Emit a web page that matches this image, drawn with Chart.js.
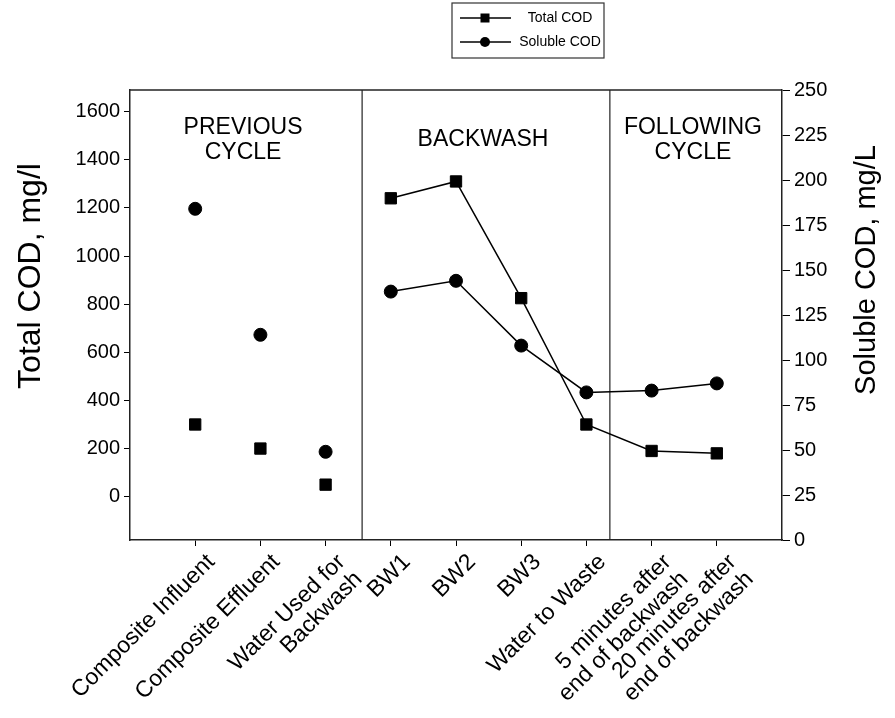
<!DOCTYPE html>
<html>
<head>
<meta charset="utf-8">
<script src="https://cdn.jsdelivr.net/npm/chart.js@4.4.1/dist/chart.umd.min.js"></script>
<style>
  html, body { margin: 0; padding: 0; background: #fff; }
</style>
</head>
<body>
<canvas id="myChart" width="895" height="718"></canvas>
<script>
// Categorías del eje X (las que tienen dos líneas van como arreglo)
const categories = [
  "Composite Influent",
  "Composite Effluent",
  ["Water Used for", "Backwash"],
  "BW1",
  "BW2",
  "BW3",
  "Water to Waste",
  ["5 minutes after", "end of backwash"],
  ["20 minutes after", "end of backwash"]
];
// Series
const totalCOD = [300, 200, 50, 1240, 1310, 825, 300, 190, 180];
const solubleCOD = [184, 114, 49, 138, 144, 108, 82, 83, 87];
// Marcas de los ejes
const leftTicks = [0, 200, 400, 600, 800, 1000, 1200, 1400, 1600];
const rightTicks = [0, 25, 50, 75, 100, 125, 150, 175, 200, 225, 250];
// Separadores de etapas (en unidades del eje X) y sus rótulos
const sectionBreaks = [2.56, 6.36];
const sectionLabels = [["PREVIOUS", "CYCLE"], ["BACKWASH"], ["FOLLOWING", "CYCLE"]];

const FONT = "'Liberation Sans', Arial, sans-serif";
const INK = "#000";

// Solo se unen con línea los puntos desde BW1 en adelante
const firstLinked = 3;
const segmentColor = (ctx) => (ctx.p0DataIndex < firstLinked ? "rgba(0,0,0,0)" : INK);

// Plugin: marco superior, separadores, rótulos de etapa, títulos de ejes y leyenda
const decorations = {
  id: "decorations",
  beforeDatasetsDraw(chart) {
    const { ctx, chartArea } = chart;
    const x = chart.scales.x;
    ctx.save();
    ctx.strokeStyle = "#222";
    ctx.lineWidth = 1.5;
    ctx.beginPath();
    ctx.moveTo(chartArea.left, chartArea.top);
    ctx.lineTo(chartArea.right, chartArea.top);
    ctx.stroke();

    ctx.lineWidth = 1.2;
    sectionBreaks.forEach((b) => {
      const px = x.getPixelForValue(b);
      ctx.beginPath();
      ctx.moveTo(px, chartArea.top);
      ctx.lineTo(px, chartArea.bottom);
      ctx.stroke();
    });

    const bounds = [x.min].concat(sectionBreaks, [x.max]);
    ctx.fillStyle = INK;
    ctx.font = "23px " + FONT;
    ctx.textAlign = "center";
    ctx.textBaseline = "middle";
    sectionLabels.forEach((lines, i) => {
      const cx = (x.getPixelForValue(bounds[i]) + x.getPixelForValue(bounds[i + 1])) / 2 - 3;
      const y0 = lines.length > 1 ? chartArea.top + 38 : chartArea.top + 50;
      lines.forEach((t, j) => ctx.fillText(t, cx, y0 + j * 25));
    });
    ctx.restore();
  },
  afterDraw(chart) {
    const { ctx } = chart;
    ctx.save();
    ctx.fillStyle = INK;
    ctx.textBaseline = "middle";
    ctx.textAlign = "center";
    // Títulos de ejes (ambos leídos de abajo hacia arriba)
    [["Total COD, mg/l", 31, 276, 32], ["Soluble COD, mg/L", 867, 270, 29]].forEach(([t, tx, ty, fs]) => {
      ctx.save();
      ctx.font = fs + "px " + FONT;
      ctx.translate(tx, ty);
      ctx.rotate(-Math.PI / 2);
      ctx.fillText(t, 0, 0);
      ctx.restore();
    });

    // Leyenda con recuadro
    ctx.strokeStyle = "#333";
    ctx.lineWidth = 1.2;
    ctx.strokeRect(452, 3, 152, 55);
    chart.data.datasets.forEach((ds, i) => {
      const ry = 18 + i * 24;
      ctx.strokeStyle = INK;
      ctx.lineWidth = 1.5;
      ctx.beginPath();
      ctx.moveTo(460, ry);
      ctx.lineTo(511, ry);
      ctx.stroke();
      ctx.fillStyle = INK;
      if (ds.pointStyle === "rect") {
        ctx.fillRect(485 - 4.5, ry - 4.5, 9, 9);
      } else {
        ctx.beginPath();
        ctx.arc(485, ry, 5, 0, Math.PI * 2);
        ctx.fill();
      }
      ctx.font = "14px " + FONT;
      ctx.textAlign = "center";
      ctx.fillText(ds.label, 560, ry);
    });
    ctx.restore();
  }
};

const ctx = document.getElementById("myChart").getContext("2d");
const myChart = new Chart(ctx, {
  type: "line",
  data: {
    datasets: [
      {
        label: "Total COD",
        data: totalCOD.map((v, i) => ({ x: i, y: v })),
        yAxisID: "y",
        borderColor: INK,
        backgroundColor: INK,
        borderWidth: 1.5,
        pointStyle: "rect",
        pointRadius: 8,
        pointBorderWidth: 1,
        segment: { borderColor: segmentColor }
      },
      {
        label: "Soluble COD",
        data: solubleCOD.map((v, i) => ({ x: i, y: v })),
        yAxisID: "y2",
        borderColor: INK,
        backgroundColor: INK,
        borderWidth: 1.5,
        pointStyle: "circle",
        pointRadius: 6.5,
        pointBorderWidth: 1,
        segment: { borderColor: segmentColor }
      }
    ]
  },
  options: {
    responsive: false,
    animation: false,
    layout: { padding: { top: 90, left: 0, right: 0, bottom: 0 } },
    plugins: {
      legend: { display: false },
      tooltip: { enabled: false }
    },
    scales: {
      x: {
        type: "linear",
        position: "bottom",
        min: -1,
        max: 9,
        afterBuildTicks: (s) => { s.ticks = categories.map((c, i) => ({ value: i })); },
        afterFit: (s) => { s.height = 178; },
        ticks: {
          autoSkip: false,
          minRotation: 45,
          maxRotation: 45,
          labelOffset: 16,
          color: INK,
          padding: 4,
          font: { family: FONT, size: 23, lineHeight: 1.05 },
          callback: (v) => categories[v]
        },
        grid: { drawOnChartArea: false, tickLength: 6, color: INK },
        border: { display: true, color: "#222", width: 1.5 }
      },
      y: {
        type: "linear",
        position: "left",
        min: -180,
        max: 1690,
        afterBuildTicks: (s) => { s.ticks = leftTicks.map((v) => ({ value: v })); },
        afterFit: (s) => { s.width = 130; },
        ticks: { color: INK, padding: 4, font: { family: FONT, size: 20 }, callback: (v) => String(v) },
        grid: { drawOnChartArea: false, tickLength: 6, color: INK },
        border: { display: true, color: "#222", width: 1.5 }
      },
      y2: {
        type: "linear",
        position: "right",
        min: 0,
        max: 250,
        afterBuildTicks: (s) => { s.ticks = rightTicks.map((v) => ({ value: v })); },
        afterFit: (s) => { s.width = 113; },
        ticks: { color: INK, padding: 4, font: { family: FONT, size: 20 }, callback: (v) => String(v) },
        grid: { drawOnChartArea: false, tickLength: 8, color: INK },
        border: { display: true, color: "#222", width: 1.5 }
      }
    }
  },
  plugins: [decorations]
});
</script>
</body>
</html>
